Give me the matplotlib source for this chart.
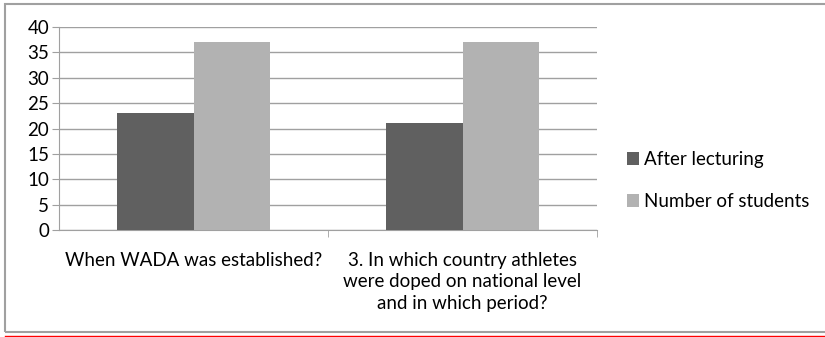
import matplotlib.pyplot as plt
import numpy as np

categories = ["When WADA was established?",
              "3. In which country athletes\nwere doped on national level\nand in which period?"]
after_lecturing = [23, 21]
number_of_students = [37, 37]
series_names = ["After lecturing", "Number of students"]

plt.rcParams["font.family"] = ["Lato", "DejaVu Sans"]

fig = plt.figure(figsize=(8.25, 3.37), dpi=100)
W, H = 825, 337
ax = fig.add_axes([59 / W, 1 - 230 / H, (597 - 59) / W, (230 - 27) / H])

x = np.arange(len(categories))
width = 1 / 3.5
ax.bar(x - width / 2, after_lecturing, width, color="#606060", label=series_names[0], zorder=3)
ax.bar(x + width / 2, number_of_students, width, color="#b2b2b2", label=series_names[1], zorder=3)

ax.set_xlim(-0.5, 1.5)
ax.set_ylim(0, 40)
ax.set_yticks(range(0, 41, 5))
ax.yaxis.grid(True, color="#a0a0a0", linewidth=1)
ax.set_axisbelow(True)
for s in ["top", "right"]:
    ax.spines[s].set_visible(False)
for s in ["left", "bottom"]:
    ax.spines[s].set_color("#a0a0a0")
ax.tick_params(axis="y", length=5, color="#a0a0a0", labelsize=13.5, pad=2)
ax.set_xticks([0.5, 1.5], minor=True)
ax.tick_params(axis="x", which="minor", length=5, color="#a0a0a0")
ax.set_xticks(x)
ax.set_xticklabels(categories, fontsize=13.5, linespacing=1.3)
ax.tick_params(axis="x", which="major", length=0, pad=16)

handles, labels = ax.get_legend_handles_labels()
fig.legend(handles, labels, loc="upper left", bbox_to_anchor=(610 / W, 1 - 134 / H),
           frameon=False, fontsize=13.5, handlelength=0.65, handleheight=0.65,
           handletextpad=0.25, labelspacing=1.35)

fig.add_artist(plt.Rectangle((5 / W, 1 - 332 / H), 830 / W, 328 / H, transform=fig.transFigure,
                             fill=False, edgecolor="#a0a0a0", linewidth=1.5))
fig.add_artist(plt.Line2D([5 / W, 1], [1 - 336 / H, 1 - 336 / H], transform=fig.transFigure,
                          color="red", linewidth=1))

fig.savefig("out.png", dpi=100)
